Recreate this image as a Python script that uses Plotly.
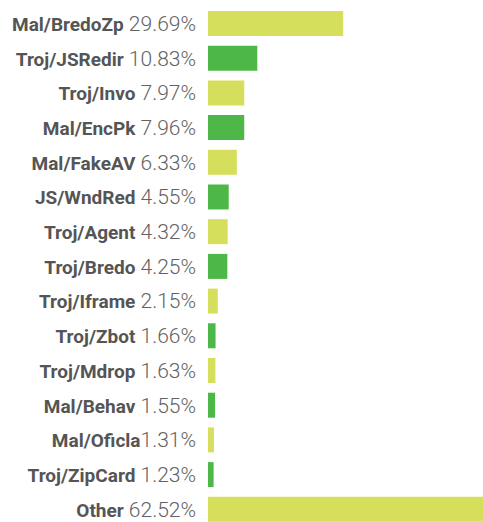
import plotly.graph_objects as go

names = ["Mal/BredoZp", "Troj/JSRedir", "Troj/Invo", "Mal/EncPk", "Mal/FakeAV",
         "JS/WndRed", "Troj/Agent", "Troj/Bredo", "Troj/Iframe", "Troj/Zbot",
         "Troj/Mdrop", "Mal/Behav", "Mal/Oficla", "Troj/ZipCard", "Other"]
values = [29.69, 10.83, 7.97, 7.96, 6.33, 4.55, 4.32, 4.25, 2.15, 1.66,
          1.63, 1.55, 1.31, 1.23, 62.52]
separators = [" "] * 12 + ["", " ", " "]

YELLOW = "#d5df5b"
GREEN = "#4db848"
colors = [YELLOW if i % 2 == 0 else GREEN for i in range(len(names))]

ypos = list(range(len(names)))
ticktext = [
    f"<span style=\"font-weight:bold;font-size:19px;fill:#555555\">{n}</span>{s}{v:.2f}%"
    for n, s, v in zip(names, separators, values)
]

fig = go.Figure(go.Bar(
    x=values, y=ypos, orientation="h",
    marker=dict(color=colors, line=dict(width=0)),
    width=0.72, hoverinfo="skip",
))

fig.update_layout(
    width=483, height=522,
    margin=dict(l=208, r=0, t=6, b=0),
    paper_bgcolor="white", plot_bgcolor="white",
    showlegend=False,
    xaxis=dict(range=[0, 60.4], visible=False, fixedrange=True),
    yaxis=dict(
        range=[14.366, -0.504], tickmode="array", tickvals=ypos, ticktext=ticktext,
        showgrid=False, zeroline=False, showline=False, ticks="",
        ticklabelstandoff=11,
        tickfont=dict(family="Roboto, Liberation Sans, Arial, sans-serif", size=21,
                      weight=300, color="#626262"),
        fixedrange=True,
    ),
)

fig.write_html(
    "out.html",
    config={"displayModeBar": False},
    post_script="document.body.style.margin='0';document.body.style.overflow='hidden';",
)
